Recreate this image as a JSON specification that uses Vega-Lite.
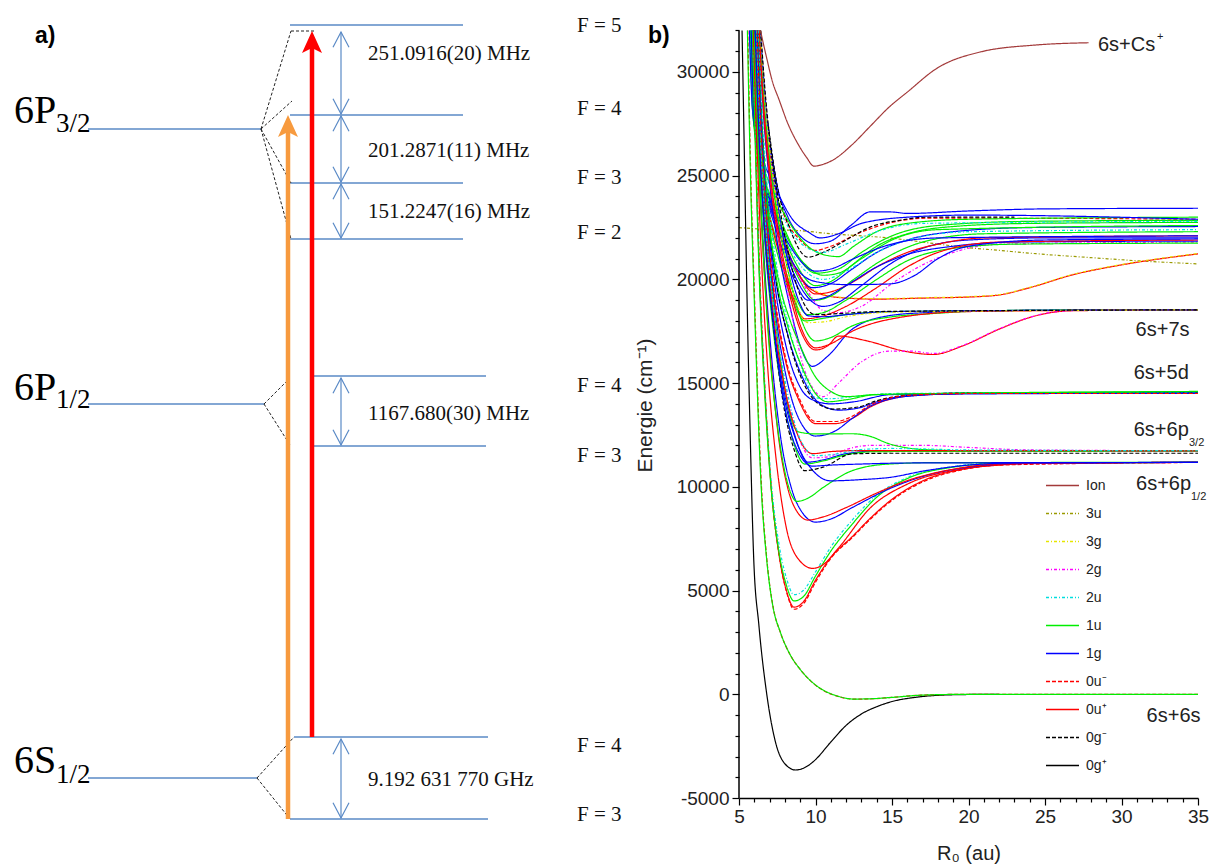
{
"$schema":"https://vega.github.io/schema/vega-lite/v6.json",
"padding":0,
"spacing":39,
"bounds":"flush",
"config":{"view":{"stroke":null},"axis":{"grid":false,"labelOverlap":false}},
"hconcat":[
{
"width":700,"height":868,
"layer":[
{"data":{"values":[{"x":88,"x2":261,"y":129},{"x":290,"x2":463,"y":25},{"x":290,"x2":463,"y":115},{"x":290,"x2":463,"y":183},{"x":290,"x2":463,"y":239},{"x":88,"x2":264,"y":404},{"x":314,"x2":486,"y":376},{"x":314,"x2":486,"y":446},{"x":88,"x2":257,"y":778},{"x":294,"x2":488,"y":737},{"x":290,"x2":488,"y":819}]},
"mark":{"type":"rule","color":"#5a8ac6","strokeWidth":1.3},
"encoding":{"x":{"field":"x","type":"quantitative","scale":{"domain":[0,700]},"axis":null},"x2":{"field":"x2"},"y":{"field":"y","type":"quantitative","scale":{"domain":[0,868],"reverse":true},"axis":null}}},
{"data":{"values":[{"x":261,"y":129,"x2":291,"y2":31},{"x":291,"y":31,"x2":316,"y2":31},{"x":261,"y":129,"x2":292,"y2":101},{"x":261,"y":129,"x2":291,"y2":183},{"x":261,"y":129,"x2":291,"y2":239},{"x":264,"y":404,"x2":290,"y2":378},{"x":264,"y":404,"x2":290,"y2":445},{"x":257,"y":778,"x2":294,"y2":737},{"x":257,"y":778,"x2":290,"y2":819}]},
"mark":{"type":"rule","color":"#222","strokeWidth":1,"strokeDash":[3,2]},
"encoding":{"x":{"field":"x","type":"quantitative","scale":{"domain":[0,700]},"axis":null},"x2":{"field":"x2"},"y":{"field":"y","type":"quantitative","scale":{"domain":[0,868],"reverse":true},"axis":null},"y2":{"field":"y2"}}},
{"data":{"values":[{"x":341,"y":32,"y2":114},{"x":341,"y":116,"y2":182},{"x":341,"y":184,"y2":238},{"x":341,"y":378,"y2":445},{"x":341,"y":739,"y2":818}]},
"layer":[
{"mark":{"type":"rule","color":"#5a8ac6","strokeWidth":1.2},
"encoding":{"x":{"field":"x","type":"quantitative","scale":{"domain":[0,700]},"axis":null},"y":{"field":"y","type":"quantitative","scale":{"domain":[0,868],"reverse":true},"axis":null},"y2":{"field":"y2"}}},
{"mark":{"type":"point","shape":"M-1,1.9L0,0L1,1.9","size":256,"filled":false,"color":"#5a8ac6","strokeWidth":1.2,"opacity":1},
"encoding":{"x":{"field":"x","type":"quantitative","scale":{"domain":[0,700]},"axis":null},"y":{"field":"y","type":"quantitative","scale":{"domain":[0,868],"reverse":true},"axis":null}}},
{"mark":{"type":"point","shape":"M-1,-1.9L0,0L1,-1.9","size":256,"filled":false,"color":"#5a8ac6","strokeWidth":1.2,"opacity":1},
"encoding":{"x":{"field":"x","type":"quantitative","scale":{"domain":[0,700]},"axis":null},"y":{"field":"y2","type":"quantitative","scale":{"domain":[0,868],"reverse":true},"axis":null}}}
]},
{"data":{"values":[{"x":288,"tip":115,"base":131,"bot":819}]},
"layer":[
{"mark":{"type":"rule","color":"#f79a3e","strokeWidth":4.5},
"encoding":{"x":{"field":"x","type":"quantitative","scale":{"domain":[0,700]},"axis":null},"y":{"field":"base","type":"quantitative","scale":{"domain":[0,868],"reverse":true},"axis":null},"y2":{"field":"bot"}}},
{"mark":{"type":"point","shape":"M0,0L1,2.2L0,1.7L-1,2.2Z","size":400,"filled":true,"color":"#f79a3e","opacity":1},
"encoding":{"x":{"field":"x","type":"quantitative","scale":{"domain":[0,700]},"axis":null},"y":{"field":"tip","type":"quantitative","scale":{"domain":[0,868],"reverse":true},"axis":null}}}
]},
{"data":{"values":[{"x":312,"tip":31,"base":47,"bot":737}]},
"layer":[
{"mark":{"type":"rule","color":"#ff0000","strokeWidth":4.5},
"encoding":{"x":{"field":"x","type":"quantitative","scale":{"domain":[0,700]},"axis":null},"y":{"field":"base","type":"quantitative","scale":{"domain":[0,868],"reverse":true},"axis":null},"y2":{"field":"bot"}}},
{"mark":{"type":"point","shape":"M0,0L1,2.2L0,1.7L-1,2.2Z","size":400,"filled":true,"color":"#ff0000","opacity":1},
"encoding":{"x":{"field":"x","type":"quantitative","scale":{"domain":[0,700]},"axis":null},"y":{"field":"tip","type":"quantitative","scale":{"domain":[0,868],"reverse":true},"axis":null}}}
]},
{"data":{"values":[{"t":"6P","x":14,"y":123},{"t":"6P","x":14,"y":400},{"t":"6S","x":14,"y":773}]},
"mark":{"type":"text","font":"Liberation Serif","fontSize":40,"align":"left","baseline":"alphabetic","color":"#000"},
"encoding":{"x":{"field":"x","type":"quantitative","scale":{"domain":[0,700]},"axis":null},"y":{"field":"y","type":"quantitative","scale":{"domain":[0,868],"reverse":true},"axis":null},"text":{"field":"t"}}},
{"data":{"values":[{"t":"3/2","x":56,"y":132},{"t":"1/2","x":56,"y":408},{"t":"1/2","x":56,"y":783}]},
"mark":{"type":"text","font":"Liberation Serif","fontSize":27,"align":"left","baseline":"alphabetic","color":"#000"},
"encoding":{"x":{"field":"x","type":"quantitative","scale":{"domain":[0,700]},"axis":null},"y":{"field":"y","type":"quantitative","scale":{"domain":[0,868],"reverse":true},"axis":null},"text":{"field":"t"}}},
{"data":{"values":[{"t":"251.0916(20) MHz","x":368,"y":54},{"t":"201.2871(11) MHz","x":368,"y":151},{"t":"151.2247(16) MHz","x":368,"y":212},{"t":"1167.680(30) MHz","x":368,"y":414},{"t":"9.192 631 770 GHz","x":368,"y":780},{"t":"F = 5","x":577,"y":26},{"t":"F = 4","x":577,"y":109},{"t":"F = 3","x":577,"y":178},{"t":"F = 2","x":577,"y":233},{"t":"F = 4","x":577,"y":386},{"t":"F = 3","x":577,"y":456},{"t":"F = 4","x":577,"y":746},{"t":"F = 3","x":577,"y":815}]},
"mark":{"type":"text","font":"Liberation Serif","fontSize":21,"align":"left","baseline":"middle","color":"#111"},
"encoding":{"x":{"field":"x","type":"quantitative","scale":{"domain":[0,700]},"axis":null},"y":{"field":"y","type":"quantitative","scale":{"domain":[0,868],"reverse":true},"axis":null},"text":{"field":"t"}}},
{"data":{"values":[{"t":"a)","x":35,"y":43},{"t":"b)","x":648,"y":43}]},
"mark":{"type":"text","font":"Liberation Sans","fontSize":23,"fontWeight":"bold","align":"left","baseline":"alphabetic","color":"#000"},
"encoding":{"x":{"field":"x","type":"quantitative","scale":{"domain":[0,700]},"axis":null},"y":{"field":"y","type":"quantitative","scale":{"domain":[0,868],"reverse":true},"axis":null},"text":{"field":"t"}}}
]
},
{
"width":459,"height":798,
"resolve":{"axis":{"x":"independent","y":"independent"}},
"layer":[
{"data":{"values":[
{"c":"E1","s":"1g","R":7.1,"E":26230},{"c":"E1","s":"1g","R":7.5,"E":24500},{"c":"E1","s":"1g","R":8.2,"E":23000},{"c":"E1","s":"1g","R":9,"E":22100},{"c":"E1","s":"1g","R":10,"E":21720},{"c":"E1","s":"1g","R":11,"E":21850},{"c":"E1","s":"1g","R":12.3,"E":22600},{"c":"E1","s":"1g","R":13.6,"E":23260},{"c":"E1","s":"1g","R":15,"E":23250},{"c":"E1","s":"1g","R":16,"E":23180},{"c":"E1","s":"1g","R":20,"E":23300},{"c":"E1","s":"1g","R":25,"E":23400},{"c":"E1","s":"1g","R":35,"E":23430},
{"c":"E2","s":"0u-","R":6.8,"E":28000},{"c":"E2","s":"0u-","R":7.2,"E":25100},{"c":"E2","s":"0u-","R":8,"E":23000},{"c":"E2","s":"0u-","R":9,"E":21900},{"c":"E2","s":"0u-","R":10,"E":21400},{"c":"E2","s":"0u-","R":11,"E":21600},{"c":"E2","s":"0u-","R":12.9,"E":22250},{"c":"E2","s":"0u-","R":15,"E":22750},{"c":"E2","s":"0u-","R":17.2,"E":22950},{"c":"E2","s":"0u-","R":22,"E":22950},{"c":"E2","s":"0u-","R":35,"E":22900},
{"c":"E3","s":"0g-","R":6.9,"E":27500},{"c":"E3","s":"0g-","R":7.5,"E":24500},{"c":"E3","s":"0g-","R":8.3,"E":22500},{"c":"E3","s":"0g-","R":9.5,"E":21070},{"c":"E3","s":"0g-","R":10.5,"E":21300},{"c":"E3","s":"0g-","R":12,"E":21900},{"c":"E3","s":"0g-","R":13.6,"E":22530},{"c":"E3","s":"0g-","R":15.5,"E":22850},{"c":"E3","s":"0g-","R":17.2,"E":23000},{"c":"E3","s":"0g-","R":23,"E":23000},
{"c":"E4","s":"3u","R":5,"E":22500},{"c":"E4","s":"3u","R":7,"E":22400},{"c":"E4","s":"3u","R":9,"E":22350},{"c":"E4","s":"3u","R":11,"E":22200},{"c":"E4","s":"3u","R":13,"E":22100},{"c":"E4","s":"3u","R":14.8,"E":22000},{"c":"E4","s":"3u","R":17,"E":21800},{"c":"E4","s":"3u","R":19.6,"E":21560},{"c":"E4","s":"3u","R":22,"E":21400},{"c":"E4","s":"3u","R":24.4,"E":21240},{"c":"E4","s":"3u","R":28,"E":21050},{"c":"E4","s":"3u","R":31,"E":20900},{"c":"E4","s":"3u","R":35,"E":20750},
{"c":"E5","s":"0u+","R":6.3,"E":32000},{"c":"E5","s":"0u+","R":6.55,"E":29000},{"c":"E5","s":"0u+","R":6.95,"E":26000},{"c":"E5","s":"0u+","R":7.6,"E":23000},{"c":"E5","s":"0u+","R":8.4,"E":21000},{"c":"E5","s":"0u+","R":9.2,"E":19900},{"c":"E5","s":"0u+","R":10,"E":19400},{"c":"E5","s":"0u+","R":11.5,"E":19130},{"c":"E5","s":"0u+","R":14,"E":19050},{"c":"E5","s":"0u+","R":17,"E":19100},{"c":"E5","s":"0u+","R":20,"E":19150},{"c":"E5","s":"0u+","R":22,"E":19250},{"c":"E5","s":"0u+","R":24,"E":19600},{"c":"E5","s":"0u+","R":26.8,"E":20220},{"c":"E5","s":"0u+","R":30,"E":20700},{"c":"E5","s":"0u+","R":35,"E":21230},
{"c":"E6","s":"3g","R":6.32,"E":32000},{"c":"E6","s":"3g","R":6.57,"E":29000},{"c":"E6","s":"3g","R":6.97,"E":26000},{"c":"E6","s":"3g","R":7.62,"E":23000},{"c":"E6","s":"3g","R":8.42,"E":21000},{"c":"E6","s":"3g","R":9.22,"E":19950},{"c":"E6","s":"3g","R":10,"E":19450},{"c":"E6","s":"3g","R":11.5,"E":19150},{"c":"E6","s":"3g","R":14,"E":19070},{"c":"E6","s":"3g","R":17,"E":19120},{"c":"E6","s":"3g","R":20,"E":19170},{"c":"E6","s":"3g","R":22,"E":19270},{"c":"E6","s":"3g","R":24,"E":19620},{"c":"E6","s":"3g","R":26.8,"E":20240},{"c":"E6","s":"3g","R":30,"E":20720},{"c":"E6","s":"3g","R":35,"E":21250},
{"c":"E7","s":"1u","R":5.8,"E":32000},{"c":"E7","s":"1u","R":6,"E":27500},{"c":"E7","s":"1u","R":6.5,"E":25300},{"c":"E7","s":"1u","R":7.5,"E":23000},{"c":"E7","s":"1u","R":8.7,"E":20800},{"c":"E7","s":"1u","R":10,"E":19700},{"c":"E7","s":"1u","R":11,"E":19900},{"c":"E7","s":"1u","R":12.4,"E":20700},{"c":"E7","s":"1u","R":14,"E":21600},{"c":"E7","s":"1u","R":16,"E":22200},{"c":"E7","s":"1u","R":19,"E":22550},{"c":"E7","s":"1u","R":24,"E":22700},{"c":"E7","s":"1u","R":35,"E":22750},
{"c":"E8","s":"1g","R":5.85,"E":32000},{"c":"E8","s":"1g","R":6.05,"E":27400},{"c":"E8","s":"1g","R":6.55,"E":25100},{"c":"E8","s":"1g","R":7.5,"E":22700},{"c":"E8","s":"1g","R":8.7,"E":20500},{"c":"E8","s":"1g","R":9.8,"E":19600},{"c":"E8","s":"1g","R":11,"E":19800},{"c":"E8","s":"1g","R":12.4,"E":20500},{"c":"E8","s":"1g","R":14,"E":21300},{"c":"E8","s":"1g","R":16,"E":21900},{"c":"E8","s":"1g","R":19,"E":22300},{"c":"E8","s":"1g","R":24,"E":22500},{"c":"E8","s":"1g","R":35,"E":22550},
{"c":"E9","s":"1u","R":5.75,"E":32000},{"c":"E9","s":"1u","R":5.95,"E":27600},{"c":"E9","s":"1u","R":6.45,"E":25500},{"c":"E9","s":"1u","R":7.5,"E":23300},{"c":"E9","s":"1u","R":8.8,"E":21200},{"c":"E9","s":"1u","R":10,"E":20300},{"c":"E9","s":"1u","R":11.5,"E":20500},{"c":"E9","s":"1u","R":13,"E":21300},{"c":"E9","s":"1u","R":15,"E":22100},{"c":"E9","s":"1u","R":18,"E":22600},{"c":"E9","s":"1u","R":24,"E":22800},{"c":"E9","s":"1u","R":35,"E":22850},
{"c":"E10","s":"1g","R":5.9,"E":32000},{"c":"E10","s":"1g","R":6.1,"E":27200},{"c":"E10","s":"1g","R":6.6,"E":24800},{"c":"E10","s":"1g","R":7.6,"E":22300},{"c":"E10","s":"1g","R":8.9,"E":19800},{"c":"E10","s":"1g","R":10.5,"E":18700},{"c":"E10","s":"1g","R":11.5,"E":18900},{"c":"E10","s":"1g","R":13,"E":19700},{"c":"E10","s":"1g","R":15,"E":20800},{"c":"E10","s":"1g","R":17,"E":21500},{"c":"E10","s":"1g","R":20,"E":21900},{"c":"E10","s":"1g","R":25,"E":22000},{"c":"E10","s":"1g","R":35,"E":22000},
{"c":"E11","s":"1u","R":5.88,"E":32000},{"c":"E11","s":"1u","R":6.08,"E":27300},{"c":"E11","s":"1u","R":6.58,"E":25000},{"c":"E11","s":"1u","R":7.55,"E":22500},{"c":"E11","s":"1u","R":8.8,"E":20200},{"c":"E11","s":"1u","R":10,"E":19000},{"c":"E11","s":"1u","R":11,"E":19200},{"c":"E11","s":"1u","R":12.5,"E":20000},{"c":"E11","s":"1u","R":14.5,"E":21000},{"c":"E11","s":"1u","R":17,"E":21800},{"c":"E11","s":"1u","R":21,"E":22200},{"c":"E11","s":"1u","R":35,"E":22300},
{"c":"E12","s":"0u+","R":5.86,"E":32000},{"c":"E12","s":"0u+","R":6.06,"E":27300},{"c":"E12","s":"0u+","R":6.56,"E":25000},{"c":"E12","s":"0u+","R":7.5,"E":22600},{"c":"E12","s":"0u+","R":8.8,"E":20400},{"c":"E12","s":"0u+","R":10,"E":19300},{"c":"E12","s":"0u+","R":11,"E":19400},{"c":"E12","s":"0u+","R":12.5,"E":19900},{"c":"E12","s":"0u+","R":14,"E":20600},{"c":"E12","s":"0u+","R":16,"E":21300},{"c":"E12","s":"0u+","R":18,"E":21700},{"c":"E12","s":"0u+","R":21,"E":22000},{"c":"E12","s":"0u+","R":35,"E":22100},
{"c":"E13","s":"2g","R":6,"E":32000},{"c":"E13","s":"2g","R":6.25,"E":27500},{"c":"E13","s":"2g","R":6.8,"E":24500},{"c":"E13","s":"2g","R":7.8,"E":22000},{"c":"E13","s":"2g","R":8.8,"E":20300},{"c":"E13","s":"2g","R":9.6,"E":19300},{"c":"E13","s":"2g","R":10.5,"E":18500},{"c":"E13","s":"2g","R":11.5,"E":18400},{"c":"E13","s":"2g","R":13,"E":18700},{"c":"E13","s":"2g","R":15,"E":19800},{"c":"E13","s":"2g","R":17,"E":20700},{"c":"E13","s":"2g","R":19,"E":21300},{"c":"E13","s":"2g","R":22,"E":21700},{"c":"E13","s":"2g","R":35,"E":21800},
{"c":"E14","s":"2u","R":5.82,"E":32000},{"c":"E14","s":"2u","R":6.02,"E":27500},{"c":"E14","s":"2u","R":6.52,"E":25300},{"c":"E14","s":"2u","R":7.5,"E":23000},{"c":"E14","s":"2u","R":8.7,"E":21000},{"c":"E14","s":"2u","R":10.5,"E":20000},{"c":"E14","s":"2u","R":12,"E":20400},{"c":"E14","s":"2u","R":14,"E":21300},{"c":"E14","s":"2u","R":16,"E":21900},{"c":"E14","s":"2u","R":20,"E":22300},{"c":"E14","s":"2u","R":35,"E":22400},
{"c":"E15","s":"1g","R":5.92,"E":32000},{"c":"E15","s":"1g","R":6.12,"E":27200},{"c":"E15","s":"1g","R":6.62,"E":24700},{"c":"E15","s":"1g","R":7.6,"E":22000},{"c":"E15","s":"1g","R":8.6,"E":20000},{"c":"E15","s":"1g","R":9.5,"E":19000},{"c":"E15","s":"1g","R":10.5,"E":19100},{"c":"E15","s":"1g","R":12,"E":19700},{"c":"E15","s":"1g","R":14,"E":20600},{"c":"E15","s":"1g","R":16,"E":21200},{"c":"E15","s":"1g","R":19,"E":21600},{"c":"E15","s":"1g","R":23,"E":21800},{"c":"E15","s":"1g","R":35,"E":21850},
{"c":"E16","s":"1u","R":5.95,"E":32000},{"c":"E16","s":"1u","R":6.15,"E":27000},{"c":"E16","s":"1u","R":6.65,"E":24400},{"c":"E16","s":"1u","R":7.6,"E":21500},{"c":"E16","s":"1u","R":8.6,"E":19300},{"c":"E16","s":"1u","R":9.5,"E":18300},{"c":"E16","s":"1u","R":10.5,"E":18400},{"c":"E16","s":"1u","R":12,"E":19000},{"c":"E16","s":"1u","R":14,"E":20000},{"c":"E16","s":"1u","R":16,"E":20900},{"c":"E16","s":"1u","R":19,"E":21500},{"c":"E16","s":"1u","R":23,"E":21700},{"c":"E16","s":"1u","R":35,"E":21750},
{"c":"E17","s":"0u+","R":5.97,"E":32000},{"c":"E17","s":"0u+","R":6.17,"E":27000},{"c":"E17","s":"0u+","R":6.67,"E":24300},{"c":"E17","s":"0u+","R":7.6,"E":21300},{"c":"E17","s":"0u+","R":8.5,"E":19200},{"c":"E17","s":"0u+","R":9.3,"E":18100},{"c":"E17","s":"0u+","R":10.3,"E":18200},{"c":"E17","s":"0u+","R":12,"E":18700},{"c":"E17","s":"0u+","R":14,"E":19600},{"c":"E17","s":"0u+","R":16,"E":20600},{"c":"E17","s":"0u+","R":18,"E":21300},{"c":"E17","s":"0u+","R":22,"E":21800},{"c":"E17","s":"0u+","R":35,"E":21900},
{"c":"E18","s":"1u","R":5.7,"E":32000},{"c":"E18","s":"1u","R":5.9,"E":28000},{"c":"E18","s":"1u","R":6.4,"E":26000},{"c":"E18","s":"1u","R":7.4,"E":24000},{"c":"E18","s":"1u","R":8.5,"E":22500},{"c":"E18","s":"1u","R":9.5,"E":21600},{"c":"E18","s":"1u","R":10.5,"E":21200},{"c":"E18","s":"1u","R":11.5,"E":21100},{"c":"E18","s":"1u","R":12.5,"E":21600},{"c":"E18","s":"1u","R":14,"E":22300},{"c":"E18","s":"1u","R":16,"E":22700},{"c":"E18","s":"1u","R":20,"E":22900},{"c":"E18","s":"1u","R":35,"E":23000},
{"c":"E19","s":"2u","R":5.72,"E":32000},{"c":"E19","s":"2u","R":5.92,"E":28000},{"c":"E19","s":"2u","R":6.42,"E":26000},{"c":"E19","s":"2u","R":7.4,"E":23800},{"c":"E19","s":"2u","R":8.5,"E":22200},{"c":"E19","s":"2u","R":9.5,"E":21500},{"c":"E19","s":"2u","R":10.5,"E":21300},{"c":"E19","s":"2u","R":12,"E":21700},{"c":"E19","s":"2u","R":14,"E":22300},{"c":"E19","s":"2u","R":17,"E":22700},{"c":"E19","s":"2u","R":35,"E":22800},
{"c":"E20","s":"1g","R":5.68,"E":32000},{"c":"E20","s":"1g","R":5.88,"E":28200},{"c":"E20","s":"1g","R":6.38,"E":26300},{"c":"E20","s":"1g","R":7.4,"E":24400},{"c":"E20","s":"1g","R":8.6,"E":22800},{"c":"E20","s":"1g","R":9.5,"E":22300},{"c":"E20","s":"1g","R":10.3,"E":22000},{"c":"E20","s":"1g","R":11.5,"E":22200},{"c":"E20","s":"1g","R":13,"E":22700},{"c":"E20","s":"1g","R":16,"E":23000},{"c":"E20","s":"1g","R":20,"E":23100},{"c":"E20","s":"1g","R":35,"E":22900},
{"c":"E21","s":"1u","R":5.78,"E":32000},{"c":"E21","s":"1u","R":5.98,"E":27600},{"c":"E21","s":"1u","R":6.48,"E":25400},{"c":"E21","s":"1u","R":7.5,"E":23100},{"c":"E21","s":"1u","R":8.7,"E":21300},{"c":"E21","s":"1u","R":9.5,"E":20600},{"c":"E21","s":"1u","R":10.5,"E":20200},{"c":"E21","s":"1u","R":11.5,"E":20300},{"c":"E21","s":"1u","R":13,"E":21000},{"c":"E21","s":"1u","R":15,"E":21900},{"c":"E21","s":"1u","R":18,"E":22400},{"c":"E21","s":"1u","R":35,"E":22600},
{"c":"E22","s":"1g","R":5.8,"E":32000},{"c":"E22","s":"1g","R":6,"E":27500},{"c":"E22","s":"1g","R":6.5,"E":25300},{"c":"E22","s":"1g","R":7.5,"E":22900},{"c":"E22","s":"1g","R":8.7,"E":21200},{"c":"E22","s":"1g","R":10,"E":20400},{"c":"E22","s":"1g","R":11,"E":20500},{"c":"E22","s":"1g","R":12.5,"E":21000},{"c":"E22","s":"1g","R":14.5,"E":21600},{"c":"E22","s":"1g","R":18,"E":22000},{"c":"E22","s":"1g","R":35,"E":22100},
{"c":"E23","s":"1g","R":5.9,"E":32000},{"c":"E23","s":"1g","R":6.1,"E":27300},{"c":"E23","s":"1g","R":6.6,"E":24900},{"c":"E23","s":"1g","R":7.6,"E":22400},{"c":"E23","s":"1g","R":8.7,"E":20600},{"c":"E23","s":"1g","R":10,"E":19900},{"c":"E23","s":"1g","R":12,"E":19750},{"c":"E23","s":"1g","R":14.8,"E":19780},{"c":"E23","s":"1g","R":16.5,"E":20200},{"c":"E23","s":"1g","R":18,"E":21000},{"c":"E23","s":"1g","R":20,"E":21600},{"c":"E23","s":"1g","R":25,"E":21900},{"c":"E23","s":"1g","R":35,"E":21950},
{"c":"E24","s":"1u","R":6,"E":32000},{"c":"E24","s":"1u","R":6.2,"E":27000},{"c":"E24","s":"1u","R":6.7,"E":24000},{"c":"E24","s":"1u","R":7.6,"E":21000},{"c":"E24","s":"1u","R":8.5,"E":19000},{"c":"E24","s":"1u","R":9.3,"E":18000},{"c":"E24","s":"1u","R":10.3,"E":18100},{"c":"E24","s":"1u","R":12,"E":18300},{"c":"E24","s":"1u","R":15,"E":18450},{"c":"E24","s":"1u","R":35,"E":18535},
{"c":"D1","s":"1g","R":6.3,"E":32000},{"c":"D1","s":"1g","R":6.55,"E":28500},{"c":"D1","s":"1g","R":6.95,"E":25000},{"c":"D1","s":"1g","R":7.5,"E":21800},{"c":"D1","s":"1g","R":8.3,"E":18800},{"c":"D1","s":"1g","R":9,"E":16800},{"c":"D1","s":"1g","R":9.8,"E":15810},{"c":"D1","s":"1g","R":10.8,"E":16300},{"c":"D1","s":"1g","R":12.4,"E":17600},{"c":"D1","s":"1g","R":14.8,"E":18250},{"c":"D1","s":"1g","R":17.2,"E":18400},{"c":"D1","s":"1g","R":22,"E":18500},{"c":"D1","s":"1g","R":35,"E":18535},
{"c":"D2","s":"0u+","R":6.3,"E":32000},{"c":"D2","s":"0u+","R":6.55,"E":28700},{"c":"D2","s":"0u+","R":6.95,"E":25300},{"c":"D2","s":"0u+","R":7.5,"E":22300},{"c":"D2","s":"0u+","R":8.3,"E":19300},{"c":"D2","s":"0u+","R":9.1,"E":17400},{"c":"D2","s":"0u+","R":10,"E":16600},{"c":"D2","s":"0u+","R":10.8,"E":16800},{"c":"D2","s":"0u+","R":11.5,"E":17270},{"c":"D2","s":"0u+","R":13.4,"E":17030},{"c":"D2","s":"0u+","R":15.8,"E":16540},{"c":"D2","s":"0u+","R":17.7,"E":16380},{"c":"D2","s":"0u+","R":19.6,"E":16790},{"c":"D2","s":"0u+","R":22,"E":17600},{"c":"D2","s":"0u+","R":24.4,"E":18250},{"c":"D2","s":"0u+","R":26.8,"E":18490},{"c":"D2","s":"0u+","R":35,"E":18535},
{"c":"D3","s":"2g","R":6.35,"E":32000},{"c":"D3","s":"2g","R":6.6,"E":28800},{"c":"D3","s":"2g","R":7,"E":25300},{"c":"D3","s":"2g","R":7.6,"E":22000},{"c":"D3","s":"2g","R":8.4,"E":18500},{"c":"D3","s":"2g","R":9.3,"E":15600},{"c":"D3","s":"2g","R":10.5,"E":14350},{"c":"D3","s":"2g","R":11.5,"E":15000},{"c":"D3","s":"2g","R":12.9,"E":15970},{"c":"D3","s":"2g","R":14.8,"E":16540},{"c":"D3","s":"2g","R":16.3,"E":16540},{"c":"D3","s":"2g","R":17.7,"E":16430},{"c":"D3","s":"2g","R":19.6,"E":16810},{"c":"D3","s":"2g","R":22,"E":17620},{"c":"D3","s":"2g","R":24.4,"E":18260},{"c":"D3","s":"2g","R":26.8,"E":18500},{"c":"D3","s":"2g","R":35,"E":18535},
{"c":"D4","s":"1u","R":6.35,"E":32000},{"c":"D4","s":"1u","R":6.6,"E":29000},{"c":"D4","s":"1u","R":7,"E":25800},{"c":"D4","s":"1u","R":7.6,"E":22700},{"c":"D4","s":"1u","R":8.4,"E":19800},{"c":"D4","s":"1u","R":9.1,"E":18000},{"c":"D4","s":"1u","R":10,"E":17030},{"c":"D4","s":"1u","R":11,"E":17200},{"c":"D4","s":"1u","R":12.4,"E":17760},{"c":"D4","s":"1u","R":15,"E":18200},{"c":"D4","s":"1u","R":17.2,"E":18330},{"c":"D4","s":"1u","R":22,"E":18500},{"c":"D4","s":"1u","R":35,"E":18535},
{"c":"D5","s":"0u+","R":6.32,"E":32000},{"c":"D5","s":"0u+","R":6.57,"E":28800},{"c":"D5","s":"0u+","R":6.97,"E":25500},{"c":"D5","s":"0u+","R":7.55,"E":22400},{"c":"D5","s":"0u+","R":8.35,"E":19500},{"c":"D5","s":"0u+","R":9.1,"E":17600},{"c":"D5","s":"0u+","R":10,"E":16700},{"c":"D5","s":"0u+","R":11,"E":16900},{"c":"D5","s":"0u+","R":12.4,"E":17500},{"c":"D5","s":"0u+","R":15,"E":18100},{"c":"D5","s":"0u+","R":20,"E":18450},{"c":"D5","s":"0u+","R":35,"E":18535},
{"c":"D6","s":"1g","R":6.4,"E":32000},{"c":"D6","s":"1g","R":6.65,"E":29300},{"c":"D6","s":"1g","R":7.05,"E":26300},{"c":"D6","s":"1g","R":7.6,"E":23300},{"c":"D6","s":"1g","R":8.3,"E":20500},{"c":"D6","s":"1g","R":9,"E":18800},{"c":"D6","s":"1g","R":9.5,"E":18250},{"c":"D6","s":"1g","R":10.5,"E":18200},{"c":"D6","s":"1g","R":12,"E":18300},{"c":"D6","s":"1g","R":15,"E":18450},{"c":"D6","s":"1g","R":35,"E":18535},
{"c":"D7","s":"3g","R":6.4,"E":32000},{"c":"D7","s":"3g","R":6.65,"E":29200},{"c":"D7","s":"3g","R":7.05,"E":26200},{"c":"D7","s":"3g","R":7.6,"E":23000},{"c":"D7","s":"3g","R":8.3,"E":20100},{"c":"D7","s":"3g","R":9,"E":18400},{"c":"D7","s":"3g","R":9.5,"E":17920},{"c":"D7","s":"3g","R":10.5,"E":17950},{"c":"D7","s":"3g","R":12,"E":18200},{"c":"D7","s":"3g","R":15,"E":18420},{"c":"D7","s":"3g","R":35,"E":18535},
{"c":"D8","s":"0g-","R":6.42,"E":32000},{"c":"D8","s":"0g-","R":6.67,"E":29400},{"c":"D8","s":"0g-","R":7.07,"E":26400},{"c":"D8","s":"0g-","R":7.65,"E":23500},{"c":"D8","s":"0g-","R":8.4,"E":20700},{"c":"D8","s":"0g-","R":9.2,"E":18900},{"c":"D8","s":"0g-","R":10,"E":18300},{"c":"D8","s":"0g-","R":11.5,"E":18350},{"c":"D8","s":"0g-","R":14,"E":18450},{"c":"D8","s":"0g-","R":35,"E":18535},
{"c":"C1","s":"0u+","R":6.15,"E":32000},{"c":"C1","s":"0u+","R":6.4,"E":27500},{"c":"C1","s":"0u+","R":6.8,"E":23000},{"c":"C1","s":"0u+","R":7.3,"E":19200},{"c":"C1","s":"0u+","R":8,"E":16200},{"c":"C1","s":"0u+","R":8.9,"E":14200},{"c":"C1","s":"0u+","R":10,"E":13050},{"c":"C1","s":"0u+","R":11.3,"E":13050},{"c":"C1","s":"0u+","R":12.4,"E":13300},{"c":"C1","s":"0u+","R":13.6,"E":13860},{"c":"C1","s":"0u+","R":15,"E":14250},{"c":"C1","s":"0u+","R":17,"E":14430},{"c":"C1","s":"0u+","R":20,"E":14500},{"c":"C1","s":"0u+","R":35,"E":14500},
{"c":"C2","s":"1g","R":6.12,"E":32000},{"c":"C2","s":"1g","R":6.37,"E":27300},{"c":"C2","s":"1g","R":6.77,"E":22800},{"c":"C2","s":"1g","R":7.27,"E":19000},{"c":"C2","s":"1g","R":7.95,"E":15800},{"c":"C2","s":"1g","R":8.9,"E":13300},{"c":"C2","s":"1g","R":10,"E":12450},{"c":"C2","s":"1g","R":11.3,"E":12700},{"c":"C2","s":"1g","R":12.4,"E":13300},{"c":"C2","s":"1g","R":13.6,"E":13900},{"c":"C2","s":"1g","R":15,"E":14250},{"c":"C2","s":"1g","R":17,"E":14420},{"c":"C2","s":"1g","R":20,"E":14500},{"c":"C2","s":"1g","R":35,"E":14500},
{"c":"C3","s":"1g","R":6.2,"E":32000},{"c":"C3","s":"1g","R":6.45,"E":28000},{"c":"C3","s":"1g","R":6.85,"E":23500},{"c":"C3","s":"1g","R":7.4,"E":20000},{"c":"C3","s":"1g","R":8.2,"E":17300},{"c":"C3","s":"1g","R":9.2,"E":15200},{"c":"C3","s":"1g","R":10.3,"E":14000},{"c":"C3","s":"1g","R":11.5,"E":13700},{"c":"C3","s":"1g","R":12.8,"E":13800},{"c":"C3","s":"1g","R":14,"E":14100},{"c":"C3","s":"1g","R":16,"E":14400},{"c":"C3","s":"1g","R":20,"E":14520},{"c":"C3","s":"1g","R":35,"E":14550},
{"c":"C4","s":"0g-","R":6.22,"E":32000},{"c":"C4","s":"0g-","R":6.47,"E":28000},{"c":"C4","s":"0g-","R":6.87,"E":23500},{"c":"C4","s":"0g-","R":7.42,"E":20000},{"c":"C4","s":"0g-","R":8.22,"E":17200},{"c":"C4","s":"0g-","R":9.22,"E":15000},{"c":"C4","s":"0g-","R":10.3,"E":13950},{"c":"C4","s":"0g-","R":11.2,"E":13750},{"c":"C4","s":"0g-","R":12.8,"E":13850},{"c":"C4","s":"0g-","R":14,"E":14150},{"c":"C4","s":"0g-","R":16,"E":14420},{"c":"C4","s":"0g-","R":20,"E":14530},{"c":"C4","s":"0g-","R":35,"E":14550},
{"c":"C5","s":"2u","R":6.25,"E":32000},{"c":"C5","s":"2u","R":6.5,"E":28300},{"c":"C5","s":"2u","R":6.9,"E":24000},{"c":"C5","s":"2u","R":7.5,"E":20500},{"c":"C5","s":"2u","R":8.3,"E":17600},{"c":"C5","s":"2u","R":9.2,"E":15500},{"c":"C5","s":"2u","R":10,"E":14300},{"c":"C5","s":"2u","R":11,"E":14250},{"c":"C5","s":"2u","R":12.5,"E":14350},{"c":"C5","s":"2u","R":15,"E":14500},{"c":"C5","s":"2u","R":35,"E":14560},
{"c":"C6","s":"1u","R":6.2,"E":32000},{"c":"C6","s":"1u","R":6.45,"E":28000},{"c":"C6","s":"1u","R":6.85,"E":23800},{"c":"C6","s":"1u","R":7.4,"E":20300},{"c":"C6","s":"1u","R":8.2,"E":17700},{"c":"C6","s":"1u","R":9.1,"E":15800},{"c":"C6","s":"1u","R":10,"E":14500},{"c":"C6","s":"1u","R":10.8,"E":14100},{"c":"C6","s":"1u","R":12,"E":14200},{"c":"C6","s":"1u","R":14,"E":14450},{"c":"C6","s":"1u","R":35,"E":14580},
{"c":"C7","s":"1g","R":6.18,"E":32000},{"c":"C7","s":"1g","R":6.43,"E":27800},{"c":"C7","s":"1g","R":6.83,"E":23300},{"c":"C7","s":"1g","R":7.35,"E":19700},{"c":"C7","s":"1g","R":8.1,"E":16700},{"c":"C7","s":"1g","R":9,"E":14800},{"c":"C7","s":"1g","R":9.8,"E":14200},{"c":"C7","s":"1g","R":11,"E":14000},{"c":"C7","s":"1g","R":12.5,"E":14100},{"c":"C7","s":"1g","R":15,"E":14450},{"c":"C7","s":"1g","R":35,"E":14520},
{"c":"C8","s":"1u","R":6.1,"E":32000},{"c":"C8","s":"1u","R":6.35,"E":27500},{"c":"C8","s":"1u","R":6.75,"E":23800},{"c":"C8","s":"1u","R":7.3,"E":21000},{"c":"C8","s":"1u","R":7.8,"E":19300},{"c":"C8","s":"1u","R":8.35,"E":18000},{"c":"C8","s":"1u","R":9,"E":16800},{"c":"C8","s":"1u","R":10,"E":15300},{"c":"C8","s":"1u","R":11,"E":14600},{"c":"C8","s":"1u","R":12,"E":14350},{"c":"C8","s":"1u","R":14,"E":14450},{"c":"C8","s":"1u","R":35,"E":14600},
{"c":"C9","s":"0u-","R":6.17,"E":32000},{"c":"C9","s":"0u-","R":6.42,"E":27500},{"c":"C9","s":"0u-","R":6.82,"E":23000},{"c":"C9","s":"0u-","R":7.32,"E":19300},{"c":"C9","s":"0u-","R":8.02,"E":16300},{"c":"C9","s":"0u-","R":8.92,"E":14300},{"c":"C9","s":"0u-","R":10,"E":13150},{"c":"C9","s":"0u-","R":11.3,"E":13150},{"c":"C9","s":"0u-","R":12.4,"E":13400},{"c":"C9","s":"0u-","R":13.6,"E":13950},{"c":"C9","s":"0u-","R":15,"E":14300},{"c":"C9","s":"0u-","R":17,"E":14450},{"c":"C9","s":"0u-","R":20,"E":14500},{"c":"C9","s":"0u-","R":35,"E":14500},
{"c":"B1","s":"0u+","R":5.9,"E":32000},{"c":"B1","s":"0u+","R":6.1,"E":26000},{"c":"B1","s":"0u+","R":6.35,"E":20000},{"c":"B1","s":"0u+","R":6.7,"E":14500},{"c":"B1","s":"0u+","R":7.1,"E":10000},{"c":"B1","s":"0u+","R":7.6,"E":6800},{"c":"B1","s":"0u+","R":8.1,"E":5000},{"c":"B1","s":"0u+","R":8.6,"E":4200},{"c":"B1","s":"0u+","R":9.2,"E":4450},{"c":"B1","s":"0u+","R":10,"E":5500},{"c":"B1","s":"0u+","R":11,"E":6600},{"c":"B1","s":"0u+","R":12.4,"E":7600},{"c":"B1","s":"0u+","R":13.6,"E":8500},{"c":"B1","s":"0u+","R":15,"E":9400},{"c":"B1","s":"0u+","R":17.2,"E":10350},{"c":"B1","s":"0u+","R":19.6,"E":10850},{"c":"B1","s":"0u+","R":22,"E":11060},{"c":"B1","s":"0u+","R":25,"E":11160},{"c":"B1","s":"0u+","R":35,"E":11178},
{"c":"B2","s":"0u-","R":5.92,"E":32000},{"c":"B2","s":"0u-","R":6.12,"E":26000},{"c":"B2","s":"0u-","R":6.37,"E":20000},{"c":"B2","s":"0u-","R":6.72,"E":14400},{"c":"B2","s":"0u-","R":7.12,"E":9900},{"c":"B2","s":"0u-","R":7.62,"E":6700},{"c":"B2","s":"0u-","R":8.12,"E":4900},{"c":"B2","s":"0u-","R":8.6,"E":4100},{"c":"B2","s":"0u-","R":9.2,"E":4350},{"c":"B2","s":"0u-","R":10,"E":5400},{"c":"B2","s":"0u-","R":11,"E":6550},{"c":"B2","s":"0u-","R":12.4,"E":7550},{"c":"B2","s":"0u-","R":13.6,"E":8450},{"c":"B2","s":"0u-","R":15,"E":9350},{"c":"B2","s":"0u-","R":17.2,"E":10300},{"c":"B2","s":"0u-","R":19.6,"E":10820},{"c":"B2","s":"0u-","R":22,"E":11050},{"c":"B2","s":"0u-","R":35,"E":11178},
{"c":"B3","s":"2u","R":5.9,"E":32000},{"c":"B3","s":"2u","R":6.1,"E":26000},{"c":"B3","s":"2u","R":6.35,"E":20000},{"c":"B3","s":"2u","R":6.7,"E":14600},{"c":"B3","s":"2u","R":7.1,"E":10300},{"c":"B3","s":"2u","R":7.6,"E":7300},{"c":"B3","s":"2u","R":8.1,"E":5600},{"c":"B3","s":"2u","R":8.6,"E":4800},{"c":"B3","s":"2u","R":9.2,"E":5000},{"c":"B3","s":"2u","R":10,"E":5900},{"c":"B3","s":"2u","R":11,"E":7100},{"c":"B3","s":"2u","R":12.4,"E":8400},{"c":"B3","s":"2u","R":14,"E":9600},{"c":"B3","s":"2u","R":16,"E":10450},{"c":"B3","s":"2u","R":19,"E":10980},{"c":"B3","s":"2u","R":22,"E":11150},{"c":"B3","s":"2u","R":35,"E":11178},
{"c":"B4","s":"1u","R":5.88,"E":32000},{"c":"B4","s":"1u","R":6.08,"E":26000},{"c":"B4","s":"1u","R":6.33,"E":20000},{"c":"B4","s":"1u","R":6.68,"E":14500},{"c":"B4","s":"1u","R":7.08,"E":10100},{"c":"B4","s":"1u","R":7.58,"E":7000},{"c":"B4","s":"1u","R":8.08,"E":5300},{"c":"B4","s":"1u","R":8.6,"E":4500},{"c":"B4","s":"1u","R":9.2,"E":4700},{"c":"B4","s":"1u","R":10,"E":5700},{"c":"B4","s":"1u","R":11,"E":6900},{"c":"B4","s":"1u","R":12.4,"E":8200},{"c":"B4","s":"1u","R":14,"E":9500},{"c":"B4","s":"1u","R":16,"E":10400},{"c":"B4","s":"1u","R":19,"E":10950},{"c":"B4","s":"1u","R":22,"E":11130},{"c":"B4","s":"1u","R":35,"E":11178},
{"c":"B5","s":"0u+","R":5.95,"E":32000},{"c":"B5","s":"0u+","R":6.2,"E":26000},{"c":"B5","s":"0u+","R":6.5,"E":20500},{"c":"B5","s":"0u+","R":6.9,"E":15500},{"c":"B5","s":"0u+","R":7.4,"E":11500},{"c":"B5","s":"0u+","R":8.1,"E":8000},{"c":"B5","s":"0u+","R":8.9,"E":6500},{"c":"B5","s":"0u+","R":9.8,"E":6070},{"c":"B5","s":"0u+","R":10.5,"E":6250},{"c":"B5","s":"0u+","R":11.5,"E":7050},{"c":"B5","s":"0u+","R":13.6,"E":9000},{"c":"B5","s":"0u+","R":16,"E":10130},{"c":"B5","s":"0u+","R":19.6,"E":10860},{"c":"B5","s":"0u+","R":22,"E":11050},{"c":"B5","s":"0u+","R":25,"E":11160},{"c":"B5","s":"0u+","R":35,"E":11178},
{"c":"B6","s":"1g","R":6,"E":32000},{"c":"B6","s":"1g","R":6.25,"E":26500},{"c":"B6","s":"1g","R":6.6,"E":21500},{"c":"B6","s":"1g","R":7.1,"E":16500},{"c":"B6","s":"1g","R":7.7,"E":12500},{"c":"B6","s":"1g","R":8.4,"E":10000},{"c":"B6","s":"1g","R":9.1,"E":8800},{"c":"B6","s":"1g","R":10,"E":8300},{"c":"B6","s":"1g","R":11,"E":8450},{"c":"B6","s":"1g","R":12.4,"E":9000},{"c":"B6","s":"1g","R":14.8,"E":9900},{"c":"B6","s":"1g","R":17,"E":10500},{"c":"B6","s":"1g","R":20,"E":10950},{"c":"B6","s":"1g","R":23,"E":11120},{"c":"B6","s":"1g","R":35,"E":11178},
{"c":"B7","s":"0u+","R":5.98,"E":32000},{"c":"B7","s":"0u+","R":6.23,"E":26500},{"c":"B7","s":"0u+","R":6.58,"E":21300},{"c":"B7","s":"0u+","R":7.05,"E":16300},{"c":"B7","s":"0u+","R":7.6,"E":12300},{"c":"B7","s":"0u+","R":8.2,"E":9900},{"c":"B7","s":"0u+","R":8.8,"E":8800},{"c":"B7","s":"0u+","R":9.5,"E":8400},{"c":"B7","s":"0u+","R":10.5,"E":8550},{"c":"B7","s":"0u+","R":12,"E":9000},{"c":"B7","s":"0u+","R":14,"E":9700},{"c":"B7","s":"0u+","R":16,"E":10300},{"c":"B7","s":"0u+","R":19,"E":10850},{"c":"B7","s":"0u+","R":22,"E":11100},{"c":"B7","s":"0u+","R":35,"E":11178},
{"c":"B8","s":"1u","R":6,"E":32000},{"c":"B8","s":"1u","R":6.25,"E":26500},{"c":"B8","s":"1u","R":6.6,"E":21000},{"c":"B8","s":"1u","R":7,"E":16500},{"c":"B8","s":"1u","R":7.5,"E":13000},{"c":"B8","s":"1u","R":8.1,"E":10400},{"c":"B8","s":"1u","R":8.8,"E":9300},{"c":"B8","s":"1u","R":9.5,"E":9450},{"c":"B8","s":"1u","R":10.5,"E":9970},{"c":"B8","s":"1u","R":12.4,"E":10780},{"c":"B8","s":"1u","R":14.8,"E":11100},{"c":"B8","s":"1u","R":18,"E":11170},{"c":"B8","s":"1u","R":35,"E":11178},
{"c":"B9","s":"1g","R":6.05,"E":32000},{"c":"B9","s":"1g","R":6.3,"E":27000},{"c":"B9","s":"1g","R":6.7,"E":22000},{"c":"B9","s":"1g","R":7.2,"E":18000},{"c":"B9","s":"1g","R":7.9,"E":14500},{"c":"B9","s":"1g","R":8.7,"E":12300},{"c":"B9","s":"1g","R":9.7,"E":10900},{"c":"B9","s":"1g","R":11,"E":10290},{"c":"B9","s":"1g","R":13,"E":10350},{"c":"B9","s":"1g","R":14.8,"E":10450},{"c":"B9","s":"1g","R":17.2,"E":10780},{"c":"B9","s":"1g","R":19.6,"E":11020},{"c":"B9","s":"1g","R":23,"E":11150},{"c":"B9","s":"1g","R":35,"E":11178},
{"c":"B10","s":"1g","R":6.05,"E":32000},{"c":"B10","s":"1g","R":6.3,"E":27000},{"c":"B10","s":"1g","R":6.7,"E":22000},{"c":"B10","s":"1g","R":7.2,"E":18200},{"c":"B10","s":"1g","R":7.9,"E":14800},{"c":"B10","s":"1g","R":8.6,"E":12600},{"c":"B10","s":"1g","R":9.5,"E":11190},{"c":"B10","s":"1g","R":10.5,"E":11300},{"c":"B10","s":"1g","R":12,"E":11600},{"c":"B10","s":"1g","R":14,"E":11720},{"c":"B10","s":"1g","R":35,"E":11732},
{"c":"B11","s":"1u","R":6.02,"E":32000},{"c":"B11","s":"1u","R":6.27,"E":27000},{"c":"B11","s":"1u","R":6.67,"E":22000},{"c":"B11","s":"1u","R":7.17,"E":18000},{"c":"B11","s":"1u","R":7.85,"E":14400},{"c":"B11","s":"1u","R":8.5,"E":12300},{"c":"B11","s":"1u","R":9.3,"E":11100},{"c":"B11","s":"1u","R":10.5,"E":11250},{"c":"B11","s":"1u","R":12,"E":11550},{"c":"B11","s":"1u","R":14,"E":11700},{"c":"B11","s":"1u","R":35,"E":11732},
{"c":"B12","s":"0g-","R":6.07,"E":32000},{"c":"B12","s":"0g-","R":6.32,"E":27000},{"c":"B12","s":"0g-","R":6.72,"E":22000},{"c":"B12","s":"0g-","R":7.22,"E":18000},{"c":"B12","s":"0g-","R":7.9,"E":14000},{"c":"B12","s":"0g-","R":8.6,"E":11800},{"c":"B12","s":"0g-","R":9.3,"E":10780},{"c":"B12","s":"0g-","R":10.5,"E":10950},{"c":"B12","s":"0g-","R":12.4,"E":11590},{"c":"B12","s":"0g-","R":15,"E":11620},{"c":"B12","s":"0g-","R":30,"E":11620},{"c":"B12","s":"0g-","R":35,"E":11620},
{"c":"B13","s":"2g","R":6.1,"E":32000},{"c":"B13","s":"2g","R":6.35,"E":27200},{"c":"B13","s":"2g","R":6.75,"E":22300},{"c":"B13","s":"2g","R":7.3,"E":18500},{"c":"B13","s":"2g","R":8,"E":15000},{"c":"B13","s":"2g","R":8.8,"E":12600},{"c":"B13","s":"2g","R":9.8,"E":11400},{"c":"B13","s":"2g","R":10.8,"E":11450},{"c":"B13","s":"2g","R":12,"E":11800},{"c":"B13","s":"2g","R":13.6,"E":12000},{"c":"B13","s":"2g","R":17,"E":12000},{"c":"B13","s":"2g","R":20,"E":11900},{"c":"B13","s":"2g","R":24,"E":11780},{"c":"B13","s":"2g","R":35,"E":11740},
{"c":"B14","s":"1u","R":6.1,"E":32000},{"c":"B14","s":"1u","R":6.35,"E":27000},{"c":"B14","s":"1u","R":6.75,"E":22500},{"c":"B14","s":"1u","R":7.3,"E":18500},{"c":"B14","s":"1u","R":7.9,"E":15200},{"c":"B14","s":"1u","R":8.4,"E":13300},{"c":"B14","s":"1u","R":8.9,"E":12650},{"c":"B14","s":"1u","R":10,"E":12550},{"c":"B14","s":"1u","R":12.4,"E":12560},{"c":"B14","s":"1u","R":13.5,"E":12450},{"c":"B14","s":"1u","R":14.8,"E":12080},{"c":"B14","s":"1u","R":17,"E":11800},{"c":"B14","s":"1u","R":20,"E":11740},{"c":"B14","s":"1u","R":35,"E":11732},
{"c":"B15","s":"0u+","R":6.08,"E":32000},{"c":"B15","s":"0u+","R":6.33,"E":27000},{"c":"B15","s":"0u+","R":6.73,"E":22300},{"c":"B15","s":"0u+","R":7.25,"E":18300},{"c":"B15","s":"0u+","R":8,"E":14700},{"c":"B15","s":"0u+","R":8.9,"E":12400},{"c":"B15","s":"0u+","R":9.8,"E":11600},{"c":"B15","s":"0u+","R":11,"E":11700},{"c":"B15","s":"0u+","R":13,"E":11750},{"c":"B15","s":"0u+","R":35,"E":11732},
{"c":"B16","s":"2u","R":6.1,"E":32000},{"c":"B16","s":"2u","R":6.35,"E":27200},{"c":"B16","s":"2u","R":6.75,"E":22500},{"c":"B16","s":"2u","R":7.3,"E":18400},{"c":"B16","s":"2u","R":8.1,"E":14800},{"c":"B16","s":"2u","R":9,"E":12300},{"c":"B16","s":"2u","R":10,"E":11500},{"c":"B16","s":"2u","R":11.5,"E":11600},{"c":"B16","s":"2u","R":13,"E":11800},{"c":"B16","s":"2u","R":15,"E":11850},{"c":"B16","s":"2u","R":20,"E":11780},{"c":"B16","s":"2u","R":35,"E":11740},
{"c":"B17","s":"1g","R":6.06,"E":32000},{"c":"B17","s":"1g","R":6.31,"E":27000},{"c":"B17","s":"1g","R":6.71,"E":22000},{"c":"B17","s":"1g","R":7.21,"E":18100},{"c":"B17","s":"1g","R":7.9,"E":14200},{"c":"B17","s":"1g","R":8.8,"E":11800},{"c":"B17","s":"1g","R":9.8,"E":11000},{"c":"B17","s":"1g","R":11,"E":11050},{"c":"B17","s":"1g","R":13,"E":11100},{"c":"B17","s":"1g","R":16,"E":11150},{"c":"B17","s":"1g","R":35,"E":11178},
{"c":"A1","s":"0g+","R":5.2,"E":32000},{"c":"A1","s":"0g+","R":5.35,"E":26000},{"c":"A1","s":"0g+","R":5.5,"E":20000},{"c":"A1","s":"0g+","R":5.75,"E":12000},{"c":"A1","s":"0g+","R":5.96,"E":6570},{"c":"A1","s":"0g+","R":6.3,"E":3330},{"c":"A1","s":"0g+","R":6.8,"E":80},{"c":"A1","s":"0g+","R":7.4,"E":-2350},{"c":"A1","s":"0g+","R":8,"E":-3350},{"c":"A1","s":"0g+","R":8.7,"E":-3650},{"c":"A1","s":"0g+","R":9.5,"E":-3450},{"c":"A1","s":"0g+","R":10,"E":-3150},{"c":"A1","s":"0g+","R":11,"E":-2300},{"c":"A1","s":"0g+","R":12,"E":-1500},{"c":"A1","s":"0g+","R":13,"E":-950},{"c":"A1","s":"0g+","R":14,"E":-600},{"c":"A1","s":"0g+","R":15,"E":-350},{"c":"A1","s":"0g+","R":16.5,"E":-150},{"c":"A1","s":"0g+","R":18,"E":-50},{"c":"A1","s":"0g+","R":20,"E":-10},{"c":"A1","s":"0g+","R":22,"E":0},
{"c":"A3","s":"0u-","R":5.57,"E":32000},{"c":"A3","s":"0u-","R":5.77,"E":25000},{"c":"A3","s":"0u-","R":6.02,"E":19000},{"c":"A3","s":"0u-","R":6.47,"E":10000},{"c":"A3","s":"0u-","R":6.82,"E":6500},{"c":"A3","s":"0u-","R":7.22,"E":4250},{"c":"A3","s":"0u-","R":7.72,"E":2950},{"c":"A3","s":"0u-","R":8.37,"E":1870},{"c":"A3","s":"0u-","R":9.02,"E":1180},{"c":"A3","s":"0u-","R":10,"E":440},{"c":"A3","s":"0u-","R":11.5,"E":-110},{"c":"A3","s":"0u-","R":12.5,"E":-235},{"c":"A3","s":"0u-","R":13.5,"E":-225},{"c":"A3","s":"0u-","R":15,"E":-150},{"c":"A3","s":"0u-","R":17,"E":-40},{"c":"A3","s":"0u-","R":20,"E":0},{"c":"A3","s":"0u-","R":35,"E":0},
{"c":"A2","s":"1u","R":5.55,"E":32000},{"c":"A2","s":"1u","R":5.75,"E":25000},{"c":"A2","s":"1u","R":6,"E":19000},{"c":"A2","s":"1u","R":6.45,"E":10000},{"c":"A2","s":"1u","R":6.8,"E":6570},{"c":"A2","s":"1u","R":7.2,"E":4300},{"c":"A2","s":"1u","R":7.7,"E":3000},{"c":"A2","s":"1u","R":8.35,"E":1900},{"c":"A2","s":"1u","R":9,"E":1200},{"c":"A2","s":"1u","R":10,"E":450},{"c":"A2","s":"1u","R":11.5,"E":-100},{"c":"A2","s":"1u","R":12.5,"E":-230},{"c":"A2","s":"1u","R":13.5,"E":-220},{"c":"A2","s":"1u","R":15,"E":-150},{"c":"A2","s":"1u","R":17,"E":-40},{"c":"A2","s":"1u","R":20,"E":0},{"c":"A2","s":"1u","R":35,"E":0},
{"c":"I","s":"Ion","R":6.4,"E":32000},{"c":"I","s":"Ion","R":6.8,"E":30700},{"c":"I","s":"Ion","R":7.2,"E":29500},{"c":"I","s":"Ion","R":7.6,"E":28700},{"c":"I","s":"Ion","R":8.2,"E":27500},{"c":"I","s":"Ion","R":8.8,"E":26600},{"c":"I","s":"Ion","R":9.4,"E":25900},{"c":"I","s":"Ion","R":9.9,"E":25460},{"c":"I","s":"Ion","R":10.5,"E":25550},{"c":"I","s":"Ion","R":11.2,"E":25780},{"c":"I","s":"Ion","R":12.4,"E":26500},{"c":"I","s":"Ion","R":13.6,"E":27400},{"c":"I","s":"Ion","R":14.8,"E":28300},{"c":"I","s":"Ion","R":16,"E":29030},{"c":"I","s":"Ion","R":17.9,"E":30160},{"c":"I","s":"Ion","R":20.8,"E":30970},{"c":"I","s":"Ion","R":24.4,"E":31300},{"c":"I","s":"Ion","R":27.85,"E":31410}
]},
"mark":{"type":"line","interpolate":"monotone","strokeWidth":1.2},
"encoding":{
"x":{"field":"R","type":"quantitative","scale":{"domain":[5,35],"nice":false,"zero":false},
"axis":{"orient":"bottom","title":"R₀ (au)","values":[5,6,7,8,9,10,11,12,13,14,15,16,17,18,19,20,21,22,23,24,25,26,27,28,29,30,31,32,33,34,35],"labelExpr":"datum.value % 5 === 0 ? datum.label : ''","labelOverlap":false,"labelFlush":false,"tickSize":{"condition":{"test":"datum.value % 5 === 0","value":7},"value":4},"tickColor":"#000","tickWidth":1.2,"domainColor":"#000","domainWidth":1.5,"labelFont":"Liberation Sans Narrow, Liberation Sans, sans-serif","labelFontSize":19,"labelColor":"#222","labelPadding":2,"titleFont":"Liberation Sans","titleFontSize":20,"titleFontWeight":"normal","titleColor":"#222","titlePadding":17}},
"y":{"field":"E","type":"quantitative","scale":{"domain":[-5000,33470],"nice":false,"zero":false},
"axis":{"orient":"left","title":"Energie (cm⁻¹)","values":[-5000,-4000,-3000,-2000,-1000,0,1000,2000,3000,4000,5000,6000,7000,8000,9000,10000,11000,12000,13000,14000,15000,16000,17000,18000,19000,20000,21000,22000,23000,24000,25000,26000,27000,28000,29000,30000,31000,32000],"labelExpr":"datum.value % 5000 === 0 ? replace(datum.label,'−','-') : ''","format":"d","labelOverlap":false,"domain":false,"tickSize":{"condition":{"test":"datum.value % 5000 === 0","value":7},"value":4},"tickColor":"#000","tickWidth":1.2,"labelFont":"Liberation Sans Narrow, Liberation Sans, sans-serif","labelFontSize":19,"labelColor":"#222","labelPadding":3,"titleFont":"Liberation Sans","titleFontSize":21,"titleFontWeight":"normal","titleColor":"#222","titleAngle":-90,"titleX":-94,"titleY":405,"titleAlign":"center","titleBaseline":"middle"}},
"color":{"field":"s","type":"nominal","scale":{"domain":["Ion","3u","3g","2g","2u","1u","1g","0u-","0u+","0g-","0g+"],"range":["#a33a3a","#9a9a00","#e6e600","#ff00ff","#00dede","#00ee00","#0000ff","#ff0000","#ff0000","#000000","#000000"]},
"legend":{"orient":"none","legendX":1045,"legendY":468,"title":null,"symbolType":"stroke","symbolSize":1089,"symbolStrokeWidth":1.5,"labelFont":"Liberation Sans","labelFontSize":14,"labelColor":"#222","rowPadding":3,"labelOffset":6,"padding":0,"labelExpr":"replace(replace(datum.label,'-','⁻'),'+','⁺')"}},
"strokeDash":{"field":"s","type":"nominal","scale":{"domain":["Ion","3u","3g","2g","2u","1u","1g","0u-","0u+","0g-","0g+"],"range":[[1,0],[3,2,1,2],[3,2,1,2],[3,2,1,2],[3,2,1,2],[1,0],[1,0],[4,2],[1,0],[4,2],[1,0]]},
"legend":{"orient":"none","legendX":1045,"legendY":468,"title":null,"symbolType":"stroke","symbolSize":1089,"symbolStrokeWidth":1.5,"labelFont":"Liberation Sans","labelFontSize":14,"labelColor":"#222","rowPadding":3,"labelOffset":6,"padding":0,"labelExpr":"replace(replace(datum.label,'-','⁻'),'+','⁺')"}},
"detail":{"field":"c"}
}},
{"data":{"values":[{"R":5,"E":-5000,"E2":32000}]},
"mark":{"type":"rule","color":"#000","strokeWidth":1.5},
"encoding":{"x":{"field":"R","type":"quantitative","scale":{"domain":[5,35],"nice":false,"zero":false},"axis":null},"y":{"field":"E","type":"quantitative","scale":{"domain":[-5000,33470],"nice":false,"zero":false},"axis":null},"y2":{"field":"E2"}}},
{"data":{"values":[{"t":"6s+Cs","R":28.46,"E":31300},{"t":"6s+7s","R":30.92,"E":17560},{"t":"6s+5d","R":30.8,"E":15480},{"t":"6s+6p","R":30.8,"E":12740},{"t":"6s+6p","R":30.95,"E":10136},{"t":"6s+6s","R":31.64,"E":-1048}]},
"mark":{"type":"text","font":"Liberation Sans","fontSize":20,"align":"left","baseline":"middle","color":"#222"},
"encoding":{"x":{"field":"R","type":"quantitative","scale":{"domain":[5,35],"nice":false,"zero":false},"axis":null},"y":{"field":"E","type":"quantitative","scale":{"domain":[-5000,33470],"nice":false,"zero":false},"axis":null},"text":{"field":"t"}}},
{"data":{"values":[{"t":"+","R":32.32,"E":31680},{"t":"3/2","R":34.41,"E":12113},{"t":"1/2","R":34.54,"E":9510}]},
"mark":{"type":"text","font":"Liberation Sans","fontSize":11,"align":"left","baseline":"middle","color":"#222"},
"encoding":{"x":{"field":"R","type":"quantitative","scale":{"domain":[5,35],"nice":false,"zero":false},"axis":null},"y":{"field":"E","type":"quantitative","scale":{"domain":[-5000,33470],"nice":false,"zero":false},"axis":null},"text":{"field":"t"}}}
]
}
]
}
